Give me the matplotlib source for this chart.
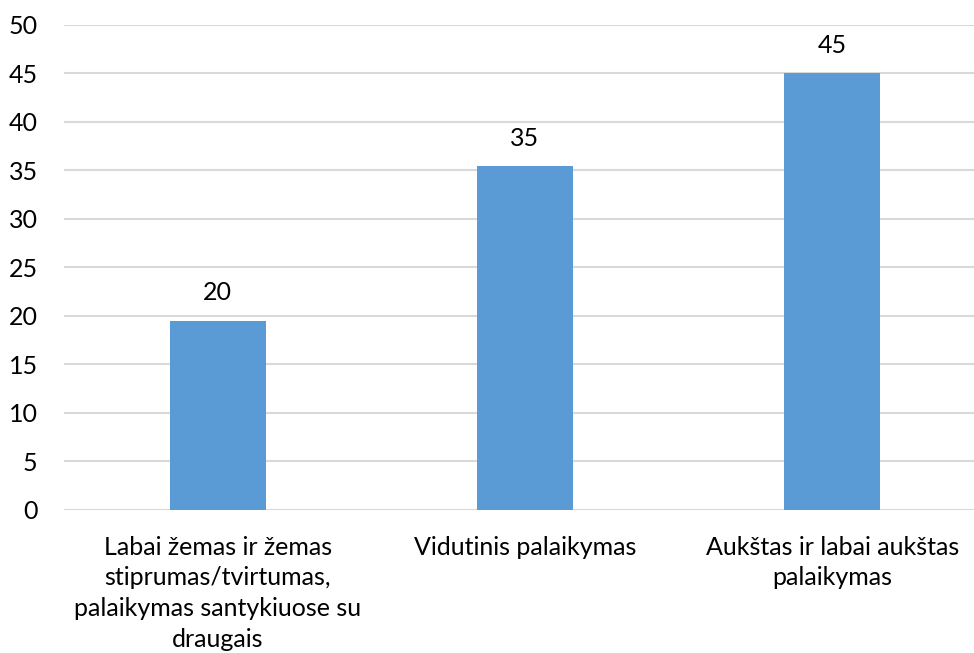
import matplotlib
matplotlib.use('Agg')
import matplotlib.pyplot as plt

# データ
categories = [
    'Labai žemas ir žemas\nstiprumas/tvirtumas,\npalaikymas santykiuose su\ndraugais',
    'Vidutinis palaikymas',
    'Aukštas ir labai aukštas\npalaikymas',
]
values = [19.5, 35.4, 45.0]
value_labels = ['20', '35', '45']
y_ticks = [0, 5, 10, 15, 20, 25, 30, 35, 40, 45, 50]

plt.rcParams['font.family'] = ['Lato', 'DejaVu Sans']

fig = plt.figure(figsize=(9.74, 6.53), dpi=100)
ax = fig.add_axes([64 / 974, 1 - 509.5 / 653, 922 / 974, 484.5 / 653])

x = range(len(categories))
bars = ax.bar(x, values, width=0.3125, color='#5B9BD5', zorder=3)

for b, lab in zip(bars, value_labels):
    ax.annotate(lab, (b.get_x() + b.get_width() / 2, b.get_height()),
                xytext=(0, 12), textcoords='offset points',
                ha='center', va='bottom', fontsize=18, color='black')

ax.set_xlim(-0.5, 2.5)
ax.set_ylim(0, 50)
ax.set_yticks(y_ticks)
ax.set_xticks(list(x))
ax.set_xticklabels(categories, fontsize=18, linespacing=1.4)
ax.tick_params(axis='y', length=0, pad=19, labelsize=18)
ax.tick_params(axis='x', length=0, pad=19)
ax.grid(axis='y', color='#D9D9D9', linewidth=1.5, zorder=0)
for s in ax.spines.values():
    s.set_visible(False)

fig.savefig('out.png', dpi=100)
